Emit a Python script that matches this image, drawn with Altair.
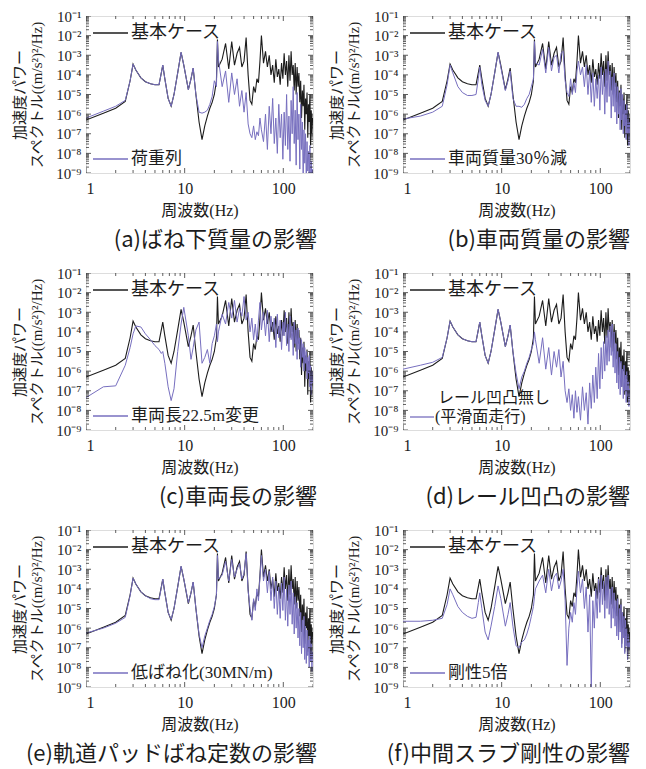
import altair as alt
import pandas as pd

# ---------------- data (exponents of PSD, i.e. log10 value) ----------------
LOW_F = [1.0, 1.5, 2.0, 2.5, 2.8, 3.0, 3.2, 3.6, 4.0, 4.5, 5.0, 5.5, 5.8, 6.0, 6.3,
         6.8, 7.3, 7.8, 8.5, 9.2, 9.8, 10.9, 11.6, 12.2, 13.0, 14.0, 15.0, 16.0,
         17.0, 18.0, 19.0, 20.0, 21.0, 21.5]
HIGH_F = list(range(22, 61, 2)) + list(range(63, 199, 3))
FREQ = LOW_F + HIGH_F

BASE_LOW = [-6.3, -5.95, -5.7, -5.35, -4.3, -3.45, -3.75, -4.15, -4.35, -4.45, -4.5, -4.5,
            -3.9, -3.5, -4.2, -5.2, -5.6, -5.0, -3.9, -2.85, -3.5, -4.75, -4.2, -3.65,
            -5.0, -6.4, -7.3, -6.6, -6.1, -5.7, -5.4, -5.0, -4.3, -2.2]
BASE_HIGH = [-3.6, -3.2, -2.4, -3.7, -2.3, -3.5, -2.9, -2.6, -3.6, -3.3, -2.1, -4.0, -5.3, -5.5, -4.6, -4.9, -4.2, -4.4, -3.3, -2.0,
             -3.4, -2.8, -3.6, -3.0, -4.0, -3.5, -4.4, -3.2, -4.1, -3.7,
             -4.5, -3.4, -4.2, -2.9, -4.0, -3.3, -4.6, -3.0, -4.3, -2.8,
             -4.0, -3.5, -4.8, -3.4, -5.0, -3.6, -4.6, -3.9, -5.4, -4.3,
             -6.2, -4.8, -5.6, -4.5, -6.8, -5.2, -6.0, -4.9, -7.2, -5.5,
             -6.4, -5.0, -7.6, -5.8, -7.0, -6.2]

A_LOW = [-6.2, -5.85, -5.6, -5.3, -4.3, -3.45, -3.75, -4.15, -4.35, -4.45, -4.5, -4.5,
         -3.9, -3.5, -4.2, -5.2, -5.6, -5.0, -3.9, -2.85, -3.5, -4.75, -4.2, -3.65,
         -5.0, -5.9, -5.95, -5.9, -5.8, -5.5, -5.1, -4.3, -4.6, -2.3]
A_HIGH = [-3.2, -4.6, -3.8, -5.4, -3.9, -5.0, -4.2, -5.6, -4.8, -5.9, -4.9, -6.5, -7.0, -7.2, -6.6, -7.3, -6.9, -7.1, -6.2, -6.8,
          -7.4, -6.0, -7.8, -5.6, -7.0, -5.2, -7.5, -6.2, -8.0, -5.5,
          -7.2, -6.0, -8.3, -5.9, -7.6, -5.0, -7.8, -6.1, -8.4, -5.3,
          -7.0, -4.6, -7.5, -5.8, -8.6, -4.9, -7.3, -6.0, -8.8, -5.5,
          -7.8, -6.4, -9.3, -6.8, -8.5, -7.0, -9.5, -7.4, -8.9, -7.9,
          -9.6, -7.6, -9.8, -8.4, -9.7, -8.8]

B_LOW = [-6.25, -6.1, -5.9, -5.6, -4.5, -3.5, -3.9, -4.6, -4.9, -5.05, -5.05, -5.0,
         -4.2, -3.6, -4.5, -5.3, -5.6, -5.0, -3.9, -2.85, -3.6, -4.8, -4.3, -3.8,
         -5.2, -5.6, -5.6, -5.65, -5.5, -5.2, -5.0, -4.6, -4.2, -2.3]
B_HIGH = [-3.4, -3.5, -2.7, -3.9, -2.6, -3.8, -3.1, -3.0, -3.9, -2.9, -2.8, -4.3, -4.9, -5.1, -4.2, -5.0, -4.4, -4.9, -3.8, -3.3,
          -4.0, -3.6, -4.6, -3.5, -5.0, -3.8, -5.4, -3.9, -5.6, -4.2,
          -5.2, -4.0, -5.8, -3.6, -5.0, -3.9, -6.0, -3.7, -5.4, -3.3,
          -5.1, -3.8, -6.2, -4.1, -5.6, -3.9, -5.9, -4.4, -6.5, -4.6,
          -6.0, -4.9, -6.8, -4.7, -6.3, -5.0, -7.0, -5.3, -6.6, -5.8,
          -7.3, -5.5, -7.0, -6.0, -7.6, -6.4]

C_LOW = [-7.35, -6.8, -6.75, -5.7, -4.8, -4.1, -3.7, -3.75, -4.1, -4.4, -4.7, -4.9,
         -5.1, -5.0, -5.6, -6.8, -7.5, -6.9, -5.0, -3.6, -2.75, -4.2, -5.4, -4.8,
         -3.9, -3.5, -5.6, -5.3, -4.9, -5.6, -4.6, -4.2, -3.6, -4.5]
C_HIGH = [-4.0, -3.1, -3.6, -2.5, -3.3, -2.4, -3.5, -2.8, -3.2, -2.2, -3.4, -3.0, -4.0, -3.3, -4.4, -3.6, -4.5, -3.4, -2.5, -3.9,
          -3.0, -4.2, -2.9, -4.5, -3.2, -4.0, -3.3, -4.8, -3.1, -4.3,
          -3.4, -4.9, -3.5, -4.2, -3.0, -4.7, -3.6, -5.0, -3.2, -4.4,
          -3.7, -5.2, -3.5, -4.6, -3.9, -5.4, -3.8, -4.9, -4.3, -5.8,
          -4.4, -5.3, -4.6, -6.0, -4.8, -5.6, -5.0, -6.4, -5.3, -6.1,
          -5.2, -6.8, -5.7, -7.2, -6.0, -6.6]

D_LOW = [-5.9, -5.7, -5.55, -5.3, -4.3, -3.45, -3.75, -4.15, -4.35, -4.45, -4.5, -4.5,
         -3.9, -3.5, -4.2, -5.2, -5.6, -5.0, -3.9, -2.85, -3.5, -4.75, -4.2, -3.65,
         -5.0, -6.1, -6.9, -6.3, -6.0, -5.6, -5.3, -4.9, -4.6, -4.0]
D_HIGH = [-4.4, -5.6, -4.3, -5.9, -4.8, -6.2, -5.0, -5.8, -4.9, -6.3, -5.5, -7.0, -7.6, -6.9, -8.0, -7.2, -8.4, -7.0, -8.1, -7.3,
          -8.5, -6.8, -8.0, -7.1, -8.7, -6.6, -7.9, -6.2, -7.6, -5.8,
          -7.4, -5.1, -6.9, -4.8, -6.4, -4.5, -6.0, -4.2, -5.7, -3.9,
          -5.5, -3.7, -5.2, -3.6, -5.8, -4.0, -6.1, -4.6, -6.6, -5.0,
          -6.9, -5.3, -7.2, -5.5, -6.8, -5.9, -7.4, -5.7, -7.0, -6.2,
          -7.6, -6.0, -7.3, -6.5, -7.8, -6.9]

E_LOW = [-6.25, -6.0, -5.75, -5.45, -4.35, -3.45, -3.75, -4.15, -4.35, -4.5, -4.55, -4.55,
         -3.95, -3.5, -4.2, -5.2, -5.55, -5.0, -3.9, -2.85, -3.5, -4.7, -4.2, -3.65,
         -5.0, -6.3, -7.0, -6.4, -6.0, -5.6, -5.3, -4.9, -4.3, -2.3]
E_HIGH = [-3.5, -3.3, -2.6, -3.6, -2.5, -3.4, -3.0, -2.7, -3.5, -3.2, -2.2, -4.1, -5.0, -5.6, -4.5, -5.1, -4.0, -4.6, -3.4, -2.3,
          -3.6, -3.0, -4.2, -3.1, -4.6, -3.4, -5.0, -3.6, -5.3, -3.9,
          -5.5, -3.7, -5.1, -3.4, -5.6, -4.0, -5.9, -3.8, -5.3, -3.6,
          -5.8, -4.2, -6.3, -4.4, -6.0, -4.7, -6.5, -5.0, -6.9, -5.2,
          -7.3, -5.6, -7.0, -5.4, -7.6, -5.9, -7.8, -6.1, -7.4, -6.6,
          -8.0, -6.4, -7.7, -6.8, -8.2, -7.2]

F_LOW = [-5.65, -5.65, -5.6, -5.5, -4.8, -4.0, -4.3, -4.9, -5.2, -5.4, -5.5, -5.45,
         -4.7, -4.2, -5.0, -6.2, -6.6, -5.9, -4.9, -3.85, -4.5, -5.9, -5.3, -4.7,
         -5.9, -6.9, -7.0, -6.7, -6.6, -6.3, -5.9, -5.4, -4.9, -4.4]
F_HIGH = [-4.0, -3.6, -3.3, -4.2, -3.0, -4.1, -3.4, -3.2, -4.0, -3.6, -3.0, -4.6, -7.9, -6.0, -5.2, -5.7, -4.7, -5.3, -4.0, -3.1,
          -4.2, -3.5, -5.0, -3.9, -6.2, -4.3, -9.2, -4.6, -6.0, -4.0,
          -5.5, -3.5, -5.2, -3.3, -4.8, -3.6, -5.5, -3.4, -5.0, -3.3,
          -5.3, -4.0, -6.0, -3.9, -5.5, -4.2, -5.9, -4.6, -6.4, -4.5,
          -6.6, -5.0, -6.2, -4.8, -7.0, -5.2, -6.5, -5.4, -7.3, -5.6,
          -6.9, -6.0, -7.6, -6.3, -7.1, -6.7]

BASE_LABEL = "基本ケース"
PANELS = [
    ("(a)ばね下質量の影響", ["荷重列"], A_LOW + A_HIGH),
    ("(b)車両質量の影響", ["車両質量30％減"], B_LOW + B_HIGH),
    ("(c)車両長の影響", ["車両長22.5m変更"], C_LOW + C_HIGH),
    ("(d)レール凹凸の影響", ["レール凹凸無し", "(平滑面走行)"], D_LOW + D_HIGH),
    ("(e)軌道パッドばね定数の影響", ["低ばね化(30MN/m)"], E_LOW + E_HIGH),
    ("(f)中間スラブ剛性の影響", ["剛性5倍"], F_LOW + F_HIGH),
]

Y_TICKS = [10.0 ** -k for k in range(1, 10)]
Y_MINOR = [m * 10.0 ** k for k in range(-9, -1) for m in range(2, 10)]
X_TICKS = [1, 10, 100]
X_MINOR = [2, 3, 4, 5, 6, 7, 8, 9, 20, 30, 40, 50, 60, 70, 80, 90, 200]

# ---------------- style ----------------
W, H = 227, 157
BLACK = "#1c1c1c"
PURPLE = "#776fbf"
SERIF = "'Liberation Serif', 'Noto Sans CJK JP', serif"
JP = "'Noto Sans CJK JP', sans-serif"

xs = alt.Scale(type="log", domain=[1, 200])
ys = alt.Scale(type="log", domain=[1e-9, 1e-1])

SUP = "['⁰','¹','²','³','⁴','⁵','⁶','⁷','⁸','⁹']"
y_axis = alt.Axis(values=Y_TICKS, ticks=False, domain=False, grid=False,
                  labelExpr="'10⁻' + " + SUP + "[round(-log(datum.value)/LN10)]",
                  labelFont=SERIF, labelFontSize=15, labelColor=BLACK, labelPadding=5,
                  labelOverlap=False,
                  title=["加速度パワー", "スペクトル((m/s²)²/Hz)"],
                  titleFont=SERIF, titleFontSize=15, titleFontWeight="normal",
                  titleColor=BLACK, titleLineHeight=17, titlePadding=11)
x_axis = alt.Axis(values=X_TICKS, ticks=False, domain=False, grid=False, format="d",
                  labelFont=SERIF, labelFontSize=16, labelColor=BLACK, labelPadding=7,
                  labelOverlap=False,
                  title="周波数(Hz)", titleFont=SERIF, titleFontSize=16,
                  titleFontWeight="normal", titleColor=BLACK, titlePadding=6)


def panel(caption, var_labels, var_exp, right):
    df_base = pd.DataFrame({"freq": FREQ, "psd": [10.0 ** v for v in BASE_LOW + BASE_HIGH]})
    df_var = pd.DataFrame({"freq": FREQ, "psd": [10.0 ** v for v in var_exp]})
    X = alt.X("freq:Q", scale=xs, axis=x_axis)
    Y = alt.Y("psd:Q", scale=ys, axis=y_axis)

    base_line = alt.Chart(df_base).mark_line(color=BLACK, strokeWidth=1.1, clip=True).encode(x=X, y=Y)
    var_line = alt.Chart(df_var).mark_line(color=PURPLE, strokeWidth=1.0, clip=True).encode(x=X, y=Y)

    ydf = pd.DataFrame({"psd": Y_TICKS + Y_MINOR,
                        "sz": [10] * len(Y_TICKS) + [6] * len(Y_MINOR)})
    xdf = pd.DataFrame({"freq": X_TICKS + X_MINOR,
                        "sz": [10] * len(X_TICKS) + [6] * len(X_MINOR)})
    tick_l = alt.Chart(ydf).mark_tick(color=BLACK, thickness=1, clip=True).encode(
        y=alt.Y("psd:Q", scale=ys), x=alt.value(0), size=alt.Size("sz:Q", scale=None))
    tick_r = alt.Chart(ydf).mark_tick(color=BLACK, thickness=1, clip=True).encode(
        y=alt.Y("psd:Q", scale=ys), x=alt.value(W), size=alt.Size("sz:Q", scale=None))
    tick_t = alt.Chart(xdf).mark_tick(color=BLACK, thickness=1, clip=True).encode(
        x=alt.X("freq:Q", scale=xs), y=alt.value(0), size=alt.Size("sz:Q", scale=None))
    tick_b = alt.Chart(xdf).mark_tick(color=BLACK, thickness=1, clip=True).encode(
        x=alt.X("freq:Q", scale=xs), y=alt.value(H), size=alt.Size("sz:Q", scale=None))

    leg1 = pd.DataFrame({"label": [BASE_LABEL]})
    l1_line = alt.Chart(leg1).mark_rule(color=BLACK, strokeWidth=1.3).encode(
        x=alt.value(7), x2=alt.value(42), y=alt.value(17))
    l1_text = alt.Chart(leg1).mark_text(align="left", baseline="middle", font=SERIF,
                                        fontSize=18, color=BLACK).encode(
        x=alt.value(45), y=alt.value(17), text="label:N")

    layers = [base_line, var_line, tick_l, tick_r, tick_t, tick_b, l1_line, l1_text]
    if len(var_labels) == 1:
        leg2 = pd.DataFrame({"label": var_labels})
        layers.append(alt.Chart(leg2).mark_rule(color=PURPLE, strokeWidth=1.3).encode(
            x=alt.value(7), x2=alt.value(42), y=alt.value(143)))
        layers.append(alt.Chart(leg2).mark_text(align="left", baseline="middle", font=SERIF,
                                                fontSize=17, color=BLACK).encode(
            x=alt.value(45), y=alt.value(143), text="label:N"))
    else:
        leg2a = pd.DataFrame({"label": [var_labels[0]]})
        leg2b = pd.DataFrame({"label": [var_labels[1]]})
        layers.append(alt.Chart(leg2b).mark_rule(color=PURPLE, strokeWidth=1.3).encode(
            x=alt.value(7), x2=alt.value(31), y=alt.value(144)))
        layers.append(alt.Chart(leg2a).mark_text(align="left", baseline="middle", font=SERIF,
                                                 fontSize=16, color=BLACK).encode(
            x=alt.value(35), y=alt.value(125), text="label:N"))
        layers.append(alt.Chart(leg2b).mark_text(align="left", baseline="middle", font=SERIF,
                                                 fontSize=16, color=BLACK).encode(
            x=alt.value(32), y=alt.value(144), text="label:N"))

    return alt.layer(*layers).properties(
        width=W, height=H,
        title=alt.TitleParams(caption, orient="bottom", anchor="end", frame="group",
                              font=JP, fontSize=22, fontWeight="normal", color=BLACK,
                              offset=12, dx=(0 if right else 4)))


charts = [panel(c, l, v, i % 2 == 1) for i, (c, l, v) in enumerate(PANELS)]
chart = alt.concat(*charts, columns=2, spacing={"row": 100, "column": 90},
                   bounds="flush").properties(
    padding={"left": 4, "top": 0, "right": 0, "bottom": 0}
).configure_view(stroke=BLACK, strokeWidth=1.6).configure(background="white")

chart.save("out.html", embed_options={"renderer": "svg", "actions": False})
